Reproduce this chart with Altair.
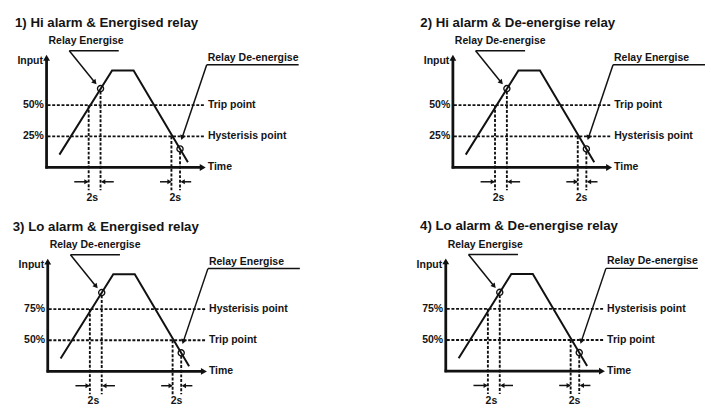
import altair as alt
import pandas as pd

# ---------------- data ----------------
panel_ids = [1, 2, 3, 4]
titles = ["1) Hi alarm & Energised relay", "2) Hi alarm & De-energise relay",
          "3) Lo alarm & Energised relay", "4) Lo alarm & De-energise relay"]
panel_ox = [0.0, 68.5, 0.2, 67.3]        # panel origin (time units)
panel_oy = [0.0, 0.0, -163.7, -163.5]    # panel origin (level units)
title_t = [-5.33, -5.5, -5.9, -4.33]
left_callout = ["Relay Energise", "Relay De-energise", "Relay De-energise", "Relay Energise"]
right_callout = ["Relay De-energise", "Relay Energise", "Relay Energise", "Relay De-energise"]
upper_pct = ["50%", "50%", "75%", "75%"]
lower_pct = ["25%", "25%", "50%", "50%"]
upper_name = ["Trip point", "Trip point", "Hysterisis point", "Hysterisis point"]
lower_name = ["Hysterisis point", "Hysterisis point", "Trip point", "Trip point"]

# input waveform (time, level) shared by all four panels
wave_t = [2.17, 11.05, 14.67, 23.83]
wave_L = [10.3, 77.9, 77.9, 4.2]

ref_levels = [50, 25]          # upper / lower reference line levels
ref_end_t = 26.67
axis_top_L = 88.0
axis_end_t = 26.0

cross_t = [7.1, 21.05]         # time the input crosses the set point
switch_t = [9.1, 22.5]         # relay switches 2 s later
switch_L = [63.3, 14.9]        # input level at the switch instant
dash_top_L = [50, 61.0, 25, 12.5]
dash_bottom_L = -18.3
delay_arrow_L = -11.5
delay_label_t = [7.7, 21.7]
delay_label_L = -24.2

# callouts
left_ul_t = [3.83, 12.17]
left_ul_L = 93.7
left_tip = (8.15, 68.2)
right_ul_t = [27.0, 42.5]
right_ul_L = 82.5
right_tip = (22.85, 23.9)

# ---------------- tables ----------------
offsets = [{"panel": p, "ox": ox, "oy": oy} for p, ox, oy in zip(panel_ids, panel_ox, panel_oy)]

seg_rows, head_rows, text_rows, wave_rows, circ_rows = [], [], [], [], []
for i, p in enumerate(panel_ids):
    def seg(kind, t, L, t2, L2):
        seg_rows.append({"panel": p, "kind": kind, "t": t, "L": L, "t2": t2, "L2": L2})

    def txt(style, t, L, s, align, base):
        text_rows.append({"panel": p, "style": style, "t": t, "L": L, "s": s,
                          "align": align, "base": base})

    # axes
    seg("axis", 0, -0.9, 0, axis_top_L)
    seg("axis", -0.2, 0, axis_end_t, 0)
    head_rows.append({"panel": p, "t": 0, "L": 88.1, "ang": 0, "sz": 48})
    head_rows.append({"panel": p, "t": 26.33, "L": 0, "ang": 90, "sz": 48})
    # reference lines
    for lv in ref_levels:
        seg("dash", 0.17, lv, ref_end_t, lv)
    # vertical timing lines
    for tt, top in zip([cross_t[0], switch_t[0], cross_t[1], switch_t[1]], dash_top_L):
        seg("dash", tt, top, tt, dash_bottom_L)
    # 2 s delay arrows
    seg("thin", 4.67, delay_arrow_L, 6.9, delay_arrow_L)
    seg("thin", 11.33, delay_arrow_L, 9.4, delay_arrow_L)
    seg("thin", 19.12, delay_arrow_L, 20.9, delay_arrow_L)
    seg("thin", 24.38, delay_arrow_L, 22.8, delay_arrow_L)
    for tt, ang in zip([6.72, 9.55, 20.72, 22.95], [90, 270, 90, 270]):
        head_rows.append({"panel": p, "t": tt, "L": delay_arrow_L, "ang": ang, "sz": 24})
    # callouts
    seg("thin", left_ul_t[0], left_ul_L, left_ul_t[1], left_ul_L)
    seg("thin", left_ul_t[0], left_ul_L, left_tip[0], left_tip[1])
    seg("thin", right_ul_t[0], right_ul_L, right_ul_t[1], right_ul_L)
    seg("thin", right_ul_t[0], right_ul_L, right_tip[0], right_tip[1])
    head_rows.append({"panel": p, "t": left_tip[0], "L": left_tip[1], "ang": 140, "sz": 32})
    head_rows.append({"panel": p, "t": right_tip[0], "L": right_tip[1], "ang": 199, "sz": 32})
    # waveform
    for k, (tt, ll) in enumerate(zip(wave_t, wave_L)):
        wave_rows.append({"panel": p, "k": k, "t": tt, "L": ll})
    for tt, ll in zip(switch_t, switch_L):
        circ_rows.append({"panel": p, "t": tt, "L": ll})
    # texts
    txt("title", title_t[i], 113.0, titles[i], "left", "alphabetic")
    txt("lab", 0.33, 98.8, left_callout[i], "left", "alphabetic")
    txt("lab", 27.17, 85.7, right_callout[i], "left", "alphabetic")
    txt("lab", -0.6, 82.9, "Input", "right", "alphabetic")
    txt("lab", -0.45, ref_levels[0], upper_pct[i], "right", "middle")
    txt("lab", -0.45, ref_levels[1], lower_pct[i], "right", "middle")
    txt("lab", 27.2, ref_levels[0], upper_name[i], "left", "middle")
    txt("lab", 27.2, ref_levels[1], lower_name[i], "left", "middle")
    txt("lab", 27.17, 0, "Time", "left", "middle")
    for tt in delay_label_t:
        txt("lab", tt, delay_label_L, "2s", "center", "middle")

segs = pd.DataFrame(seg_rows)
heads = pd.DataFrame(head_rows)
texts = pd.DataFrame(text_rows)
wave = pd.DataFrame(wave_rows)
circs = pd.DataFrame(circ_rows)

W, H = 705, 400
xs = alt.Scale(domain=[-6.5, -6.5 + W / 6.0], nice=False, zero=False)
y_top = 159 / 1.26
ys = alt.Scale(domain=[y_top - H / 1.26, y_top], nice=False, zero=False)
INK = "#111111"
FONT = "Liberation Sans"


def base(df, two=False):
    c = alt.Chart(df).transform_lookup(
        lookup="panel",
        from_=alt.LookupData(data=alt.InlineData(values=offsets), key="panel", fields=["ox", "oy"]),
    )
    if two:
        return c.transform_calculate(X="datum.t + datum.ox", Y="datum.L + datum.oy",
                                     X2="datum.t2 + datum.ox", Y2="datum.L2 + datum.oy")
    return c.transform_calculate(X="datum.t + datum.ox", Y="datum.L + datum.oy")


X = alt.X("X:Q", scale=xs, axis=None)
Y = alt.Y("Y:Q", scale=ys, axis=None)

axes = base(segs[segs.kind == "axis"], True).mark_rule(color=INK, strokeWidth=2.8).encode(
    x=X, y=Y, x2="X2:Q", y2="Y2:Q")
dashes = base(segs[segs.kind == "dash"], True).mark_rule(
    color=INK, strokeWidth=1.9, strokeDash=[3, 1.7]).encode(x=X, y=Y, x2="X2:Q", y2="Y2:Q")
thins = base(segs[segs.kind == "thin"], True).mark_rule(color=INK, strokeWidth=1.5).encode(
    x=X, y=Y, x2="X2:Q", y2="Y2:Q")
waveline = base(wave).mark_line(color=INK, strokeWidth=2.0).encode(
    x=X, y=Y, detail="panel:N", order="k:Q")
circles = base(circs).mark_point(shape="circle", size=38, color=INK, strokeWidth=1.4,
                                 filled=False, opacity=1).encode(x=X, y=Y)
arrowheads = base(heads).mark_point(shape="triangle-up", filled=True, color=INK, opacity=1).encode(
    x=X, y=Y, angle=alt.Angle("ang:Q", scale=None),
    size=alt.Size("sz:Q", scale=None, legend=None))

txt_layers = []
for style, fs in [("title", 13.4), ("lab", 10.6)]:
    for al in ["left", "right", "center"]:
        for bl in ["alphabetic", "middle"]:
            sub = texts[(texts["style"] == style) & (texts["align"] == al) & (texts["base"] == bl)]
            if len(sub) == 0:
                continue
            txt_layers.append(base(sub).mark_text(
                align=al, baseline=bl, font=FONT, fontSize=fs, fontWeight="bold", color="#141414"
            ).encode(x=X, y=Y, text="s:N"))

chart = alt.layer(axes, dashes, thins, waveline, circles, arrowheads, *txt_layers).properties(
    width=W, height=H, padding=0, autosize=alt.AutoSizeParams(type="none"),
    background="white",
).configure_view(stroke=None)

chart.save("out.html", embed_options={"renderer": "svg", "actions": False})
